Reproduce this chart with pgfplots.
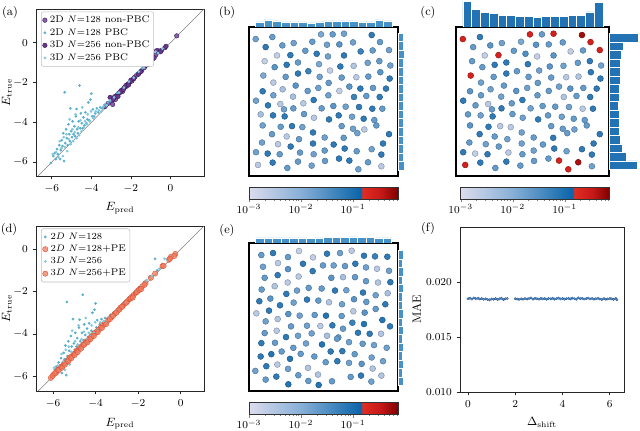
\documentclass[border=0pt]{standalone}
\usepackage{pgfplots}
\usepackage{pgfplotstable}
\pgfplotsset{compat=1.18}

\definecolor{purpA}{RGB}{135,95,175}
\definecolor{purpB}{RGB}{105,55,145}
\definecolor{purpEdge}{RGB}{55,25,80}
\definecolor{cyanA}{RGB}{90,175,205}
\definecolor{cyanB}{RGB}{130,200,220}
\definecolor{redPE}{RGB}{240,125,95}
\definecolor{redEdge}{RGB}{225,80,50}
\definecolor{histB}{RGB}{70,145,200}
\definecolor{histC}{RGB}{35,115,180}
\definecolor{dotF}{RGB}{110,160,210}
\definecolor{dotE}{RGB}{40,90,150}

\pgfplotsset{
  colormap={errmap}{rgb255(0pt)=(220,220,237) rgb255(35pt)=(135,175,215) rgb255(70pt)=(25,110,175) rgb255(75pt)=(10,100,170) rgb255(76pt)=(225,45,35) rgb255(88pt)=(200,25,25) rgb255(100pt)=(125,0,0)},
  plotframe/.style={scale only axis, axis line style={line width=0.6pt, black!85},
    tick align=outside, tick pos=left, major tick length=2.6pt,
    tick style={black!85, line width=0.5pt},
    tick label style={font=\footnotesize}, label style={font=\small}},
  mapframe/.style={scale only axis, axis line style={line width=1pt, black},
    xtick=\empty, ytick=\empty, y dir=reverse, colormap name=errmap,
    point meta min=-3, point meta max=-0.135, colorbar horizontal},
  cbar/.style={at={(parent axis.south west)}, anchor=north west, scale only axis,
    height=9pt, xtick={-3,-2,-1}, xticklabels={$10^{-3}$,$10^{-2}$,$10^{-1}$},
    minor xtick={-2.699,-2.523,-2.398,-2.301,-2.222,-2.155,-2.097,-2.046,
      -1.699,-1.523,-1.398,-1.301,-1.222,-1.155,-1.097,-1.046,
      -0.699,-0.523,-0.398,-0.301,-0.222,-0.155},
    ytick=\empty, tick align=outside, xtick pos=left, xticklabel pos=left,
    major tick length=2.5pt, minor tick length=1.5pt,
    xticklabel style={font=\footnotesize, inner sep=1.5pt}, axis line style={black!80}},
  hist/.style={scale only axis, hide axis},
  spot/.style={scatter, only marks, mark=*, mark size=2.2pt, point meta=explicit,
    scatter/use mapped color={draw=mapped color!75!black, fill=mapped color}},
  keybox/.style={legend cell align=left,
    legend style={at={(0.03,0.985)}, anchor=north west, draw=black!25,
      rounded corners=1.5pt, font=\fontsize{7.3}{7.8}\selectfont,
      inner sep=1pt, row sep=-1.2pt}},
}

% energies, panels (a) and (d)
\pgfplotstableread{
x y
-6.05 -6.05
-5.92 -5.70
-5.85 -5.55
-5.80 -5.85
-5.74 -5.35
-5.70 -5.60
-5.62 -5.15
-5.58 -5.85
-5.55 -5.40
-5.50 -4.90
-5.46 -5.20
-5.42 -4.55
-5.38 -5.95
-5.35 -2.49
-5.32 -5.05
-5.28 -4.35
-5.24 -4.80
-5.20 -5.15
-5.16 -4.10
-5.12 -4.60
-5.08 -4.95
-5.06 -3.30
-5.02 -4.45
-4.98 -4.75
-4.95 -3.95
-4.90 -4.60
-4.86 -4.20
-4.82 -4.70
-4.78 -3.70
-4.75 -3.33
-4.72 -4.35
-4.68 -4.55
-4.64 -3.95
-4.60 -2.15
-4.56 -4.30
-4.53 -3.55
-4.48 -4.05
-4.44 -4.30
-4.40 -3.75
-4.35 -4.15
-4.30 -3.50
-4.25 -4.05
-4.20 -3.85
-4.15 -3.00
-4.10 -3.90
-4.05 -2.86
-4.00 -2.56
-3.96 -3.70
-3.92 -3.35
-3.86 -3.70
-3.80 -3.55
-3.72 -3.30
-3.65 -3.50
-3.55 -3.25
-3.45 -3.30
-3.30 -3.10
-3.15 -3.00
-2.95 -2.80
-2.70 -2.55
-2.45 -2.30
-2.20 -2.10
-1.95 -1.80
-1.70 -1.55
-1.45 -1.30
-1.20 -0.45
-1.10 -1.00
-0.85 -0.70
-0.55 -0.42
}\cyanTwo
\pgfplotstableread{
x y
-5.95 -5.60
-5.78 -5.50
-5.66 -5.75
-5.60 -4.95
-5.52 -5.30
-5.44 -5.70
-5.40 -4.75
-5.34 -5.25
-5.26 -4.60
-5.22 -5.45
-5.14 -4.85
-5.10 -3.85
-5.04 -5.10
-4.96 -4.35
-4.92 -4.95
-4.84 -4.50
-4.80 -3.60
-4.74 -4.80
-4.66 -4.25
-4.62 -4.65
-4.55 -3.90
-4.50 -4.45
-4.46 -3.25
-4.38 -4.25
-4.32 -3.95
-4.22 -4.10
-4.18 -3.60
-4.08 -3.95
-4.02 -3.45
-3.90 -3.80
-3.78 -3.45
-3.62 -3.40
-3.50 -3.45
-3.38 -3.20
-3.22 -3.15
-3.05 -2.90
-2.85 -2.75
-2.60 -2.50
-2.35 -2.25
-2.10 -1.95
-1.85 -1.75
-1.60 -1.45
-1.35 -1.25
-1.00 -0.92
-0.75 -0.45
-0.62 -0.52
-0.40 -0.30
}\cyanThree
\pgfplotstableread{
x y
-3.30 -3.20
-3.15 -3.05
-3.00 -2.95
-2.92 -3.10
-2.85 -2.75
-2.78 -2.85
-2.70 -2.62
-2.62 -2.55
-2.55 -2.50
-2.48 -2.40
-2.42 -2.45
-2.35 -2.28
-2.28 -2.22
-2.22 -2.18
-2.16 -2.08
-2.10 -2.05
-2.02 -1.95
-1.95 -1.92
-1.88 -1.82
-1.80 -1.72
-1.70 -1.62
-1.58 -1.52
-1.45 -1.40
-1.32 -1.25
-1.20 -1.12
-1.05 -1.00
-0.90 -0.82
-0.75 -0.62
-0.62 -0.40
-0.45 -0.38
-0.28 -0.25
0.32 0.35
}\purpTwo
\pgfplotstableread{
x y
-3.05 -2.75
-2.90 -2.85
-2.80 -2.70
-2.65 -2.70
-2.50 -2.42
-2.38 -2.35
-2.25 -2.15
-2.12 -2.12
-2.00 -1.88
-1.85 -1.80
-1.62 -1.58
-1.50 -1.45
-1.28 -1.15
-1.10 -1.08
-0.82 -0.75
-0.70 -0.40
-0.50 -0.45
-0.22 -0.18
}\purpThree
\pgfplotstableread{
x y
-6.10 -6.08
-5.95 -5.90
-5.85 -5.82
-5.78 -5.70
-5.70 -5.66
-5.62 -5.55
-5.55 -5.52
-5.48 -5.40
-5.40 -5.36
-5.32 -5.25
-5.25 -5.20
-5.18 -5.10
-5.10 -5.05
-5.02 -4.95
-4.95 -4.90
-4.88 -4.80
-4.80 -4.75
-4.72 -4.65
-4.65 -4.58
-4.58 -4.50
-4.50 -4.45
-4.42 -4.35
-4.35 -4.30
-4.28 -4.20
-4.20 -4.15
-4.12 -4.05
-4.05 -3.98
-3.95 -3.90
-3.85 -3.80
-3.75 -3.70
-3.65 -3.58
-3.55 -3.50
-3.40 -3.35
-3.25 -3.20
-3.10 -3.05
-2.95 -2.90
-2.82 -2.75
-2.70 -2.65
-2.60 -2.55
-2.50 -2.45
-2.40 -2.35
-2.30 -2.25
-2.20 -2.15
-2.10 -2.05
-2.00 -1.95
-1.90 -1.85
-1.80 -1.75
-1.65 -1.60
-1.40 -1.35
-1.20 -1.15
-0.85 -0.80
-0.55 -0.50
-0.45 -0.35
-0.25 -0.22
}\peTwo
\pgfplotstableread{
x y
-6.02 -5.98
-5.90 -5.86
-5.74 -5.72
-5.58 -5.60
-5.44 -5.45
-5.28 -5.30
-5.14 -5.15
-4.98 -5.00
-4.84 -4.86
-4.68 -4.70
-4.54 -4.52
-4.38 -4.40
-4.24 -4.25
-4.08 -4.10
-3.90 -3.92
-3.70 -3.72
-3.50 -3.54
-3.32 -3.30
-3.18 -3.15
-3.02 -3.00
-2.88 -2.85
-2.75 -2.72
-2.55 -2.52
-2.35 -2.32
-2.25 -2.28
-2.05 -2.02
-1.95 -1.92
-1.85 -1.88
-1.70 -1.68
-0.80 -0.78
-0.50 -0.45
-0.30 -0.32
}\peThree

% particle maps (positions in picture units), log10 errors for (b) and (c)
\pgfplotstableread{
x y eb ec
138 118 -1.8 -0.65
188 112 -1.7 -1.2
334 104 -1.9 -0.65
369 104 -1.7 -1.7
403 102 -1.8 -0.6
486 106 -1.2 -0.3
168 142 -1.2 -1.7
218 137 -1.7 -1.6
252 130 -1.8 -1.8
308 126 -1.7 -1.9
352 135 -1.8 -1.6
389 134 -1.6 -1.7
430 128 -1.8 -1.7
511 127 -1.7 -0.6
242 166 -1.2 -0.65
202 167 -2.7 -2.7
287 153 -1.7 -1.7
321 162 -1.2 -1.5
355 170 -1.8 -2.7
403 167 -1.2 -1.6
453 155 -1.3 -2.7
489 152 -1.7 -1.7
538 151 -1.8 -0.65
165 184 -2.7 -1.7
195 202 -1.6 -1.7
231 195 -1.2 -1.2
265 188 -1.7 -1.2
328 193 -1.9 -1.2
392 200 -1.2 -1.6
432 198 -2.5 -1.8
474 189 -1.8 -1.7
509 184 -1.7 -1.2
542 197 -1.8 -1.8
161 227 -1.9 -0.65
228 231 -1.7 -1.7
265 221 -1.2 -1.2
296 214 -1.3 -1.7
361 212 -2.7 -1.8
330 231 -1.8 -1.7
396 233 -1.7 -1.7
440 232 -2.6 -2.6
476 230 -1.7 -2.5
512 217 -1.6 -1.2
540 236 -1.2 -1.2
191 248 -2.6 -1.8
219 268 -2.4 -1.8
258 257 -1.6 -1.7
294 273 -1.7 -1.6
326 264 -1.8 -1.8
357 249 -1.7 -1.7
389 273 -2.7 -1.7
419 260 -1.6 -1.8
452 266 -1.2 -1.6
490 264 -1.7 -1.7
529 266 -1.2 -1.2
159 274 -1.2 -1.6
191 286 -1.8 -1.7
250 290 -2.4 -1.8
356 286 -1.8 -1.7
312 300 -1.2 -1.2
433 291 -1.3 -2.5
470 288 -1.7 -1.7
510 291 -1.2 -1.2
139 302 -1.8 -1.2
175 316 -1.2 -1.7
212 312 -2.6 -2.6
223 328 -1.8 -1.7
251 325 -1.7 -1.2
281 310 -2.6 -1.7
336 325 -1.7 -1.8
371 318 -1.6 -1.7
408 320 -1.8 -1.7
448 321 -1.2 -1.8
488 326 -1.2 -2.6
518 326 -1.7 -1.2
153 343 -2.4 -1.7
190 346 -1.2 -1.8
225 349 -1.2 -1.2
283 342 -1.7 -1.7
313 353 -2.6 -1.8
358 358 -1.2 -1.2
387 346 -1.2 -1.7
427 350 -1.8 -1.8
462 356 -1.2 -1.7
494 360 -1.7 -1.7
159 376 -1.8 -1.6
213 380 -1.7 -1.2
247 378 -1.2 -2.6
278 381 -1.8 -2.6
396 378 -1.7 -1.7
430 386 -1.8 -1.7
464 388 -2.6 -1.8
500 376 -1.7 -1.7
310 397 -1.2 -1.8
187 402 -1.7 -1.2
231 409 -2.6 -1.7
268 417 -1.7 -1.8
345 412 -1.8 -1.7
402 413 -1.7 -1.2
443 399 -1.8 -1.7
538 402 -1.2 -1.2
157 427 -1.8 -1.7
205 432 -2.6 -1.8
243 439 -1.2 -1.7
310 430 -1.2 -1.8
372 433 -1.2 -1.7
405 445 -1.2 -1.2
441 453 -1.7 -1.8
486 447 -1.8 -1.2
520 430 -1.2 -1.2
139 456 -1.8 -1.2
174 460 -1.2 -2.7
210 462 -1.7 -1.2
271 457 -1.7 -2.6
312 462 -1.8 -1.7
345 451 -1.7 -1.8
388 475 -1.2 -1.7
419 481 -1.2 -0.65
475 486 -1.7 -0.35
515 463 -1.2 -1.2
145 494 -2.6 -0.65
189 487 -1.2 -1.2
233 503 -1.7 -1.7
265 484 -1.7 -1.2
306 496 -1.8 -1.7
346 482 -1.7 -1.7
446 507 -1.8 -0.65
515 498 -2.6 -1.8
}\mapBC
\pgfplotstableread{
x y e
155 121 -1.7
190 115 -1.2
235 127 -1.7
268 109 -2.7
310 128 -2.7
352 117 -1.2
391 115 -1.8
426 108 -2.6
463 123 -1.2
496 125 -1.3
533 126 -1.2
160 156 -1.8
205 145 -2.6
235 163 -1.6
280 147 -1.2
309 169 -1.2
340 152 -1.7
372 152 -1.8
406 154 -1.7
437 147 -1.2
469 158 -1.8
502 162 -2.6
538 168 -1.8
165 189 -1.7
204 181 -1.2
234 203 -2.6
267 185 -2.6
365 189 -1.6
400 187 -2.4
436 187 -1.7
469 199 -1.7
505 203 -2.5
542 202 -1.2
156 224 -1.7
195 214 -2.5
230 237 -1.2
262 227 -1.8
297 219 -1.7
336 221 -1.7
376 227 -1.2
410 226 -1.8
460 233 -1.2
498 241 -1.8
534 235 -2.4
149 259 -1.2
182 251 -1.6
211 271 -1.2
252 263 -1.8
292 254 -1.2
326 257 -1.7
358 262 -2.5
397 268 -1.8
433 253 -1.6
470 261 -1.7
498 282 -1.7
527 268 -1.2
140 295 -2.6
178 287 -1.2
236 297 -1.6
270 302 -1.8
315 300 -1.7
349 302 -1.1
396 303 -1.7
431 289 -2.6
465 293 -1.6
168 319 -1.8
204 312 -2.5
244 334 -1.7
292 332 -1.8
332 333 -2.6
368 331 -1.2
400 341 -1.7
428 323 -1.3
463 327 -1.1
518 315 -1.1
541 334 -1.2
165 354 -1.7
201 347 -2.6
229 366 -1.2
265 362 -1.8
306 355 -1.8
352 362 -2.4
386 367 -1.7
445 353 -1.2
480 356 -1.2
514 356 -2.5
155 384 -1.2
196 383 -1.7
251 398 -1.7
289 385 -1.8
337 388 -1.1
382 371 -1.7
418 381 -1.8
459 386 -1.7
493 390 -1.8
531 398 -1.8
153 424 -1.2
185 417 -1.1
216 409 -1.7
241 431 -1.1
273 416 -1.7
314 424 -1.7
363 409 -1.2
398 408 -1.2
435 417 -1.7
486 427 -1.8
520 438 -1.8
170 453 -1.2
203 448 -2.6
235 461 -1.8
295 458 -2.5
348 441 -1.7
383 438 -1.2
418 443 -1.8
456 446 -1.6
489 460 -2.5
137 467 -1.8
168 493 -1.7
200 484 -1.2
266 480 -1.7
325 478 -2.5
367 498 -1.7
423 485 -1.7
454 481 -1.2
515 481 -2.5
236 507 -1.1
296 497 -1.7
327 509 -1.1
485 499 -1.8
}\mapE

% MAE versus shift, panel (f)
\pgfplotstableread{
x y
0.00 0.01848
0.08 0.01852
0.16 0.01845
0.25 0.01855
0.33 0.01849
0.42 0.01851
0.50 0.01846
0.58 0.01850
0.66 0.01843
0.75 0.01847
0.83 0.01840
0.91 0.01838
1.00 0.01845
1.08 0.01843
1.16 0.01849
1.25 0.01841
1.33 0.01846
1.41 0.01852
1.50 0.01839
1.58 0.01847
1.66 0.01850
2.00 0.01848
2.08 0.01845
2.16 0.01842
2.25 0.01847
2.33 0.01844
2.41 0.01849
2.50 0.01846
2.58 0.01850
2.66 0.01855
2.75 0.01845
2.83 0.01851
2.91 0.01848
3.00 0.01844
3.08 0.01850
3.16 0.01846
3.25 0.01849
3.33 0.01843
3.41 0.01851
3.50 0.01847
3.58 0.01852
3.66 0.01845
3.75 0.01849
3.83 0.01853
3.91 0.01846
4.00 0.01850
4.08 0.01844
4.16 0.01848
4.25 0.01852
4.33 0.01846
4.41 0.01854
4.50 0.01849
4.58 0.01843
4.66 0.01856
4.75 0.01848
4.83 0.01851
4.91 0.01845
5.00 0.01849
5.08 0.01853
5.16 0.01846
5.25 0.01850
5.33 0.01844
5.41 0.01848
5.50 0.01851
5.58 0.01845
5.66 0.01841
5.75 0.01849
5.83 0.01843
5.91 0.01846
6.00 0.01850
6.08 0.01847
6.16 0.01842
6.25 0.01852
6.30 0.01838
}\maeShift

\begin{document}
\begin{tikzpicture}
\useasboundingbox (0,0) rectangle (480pt,-323.25pt);

% ---------- (a)
\begin{axis}[plotframe, keybox, at={(27pt,-6.75pt)}, anchor=north west,
  width=126pt, height=125.25pt,
  xmin=-6.8, xmax=1.7, ymin=-6.7, ymax=1.7,
  xtick={-6,-4,-2,0}, ytick={-6,-4,-2,0},
  xlabel={$E_{\mathrm{pred}}$}, ylabel={$E_{\mathrm{true}}$},
  xlabel style={yshift=-1pt}, ylabel style={yshift=-5.5pt}]
\addplot[gray, line width=0.4pt, forget plot] coordinates {(-7,-7) (2,2)};
\addplot[only marks, mark=*, mark size=1.7pt, mark options={fill=purpA, draw=purpEdge, line width=0.3pt}] table {\purpTwo};
\addlegendentry{2D $N{=}128$ non-PBC}
\addplot[only marks, mark=*, mark size=0.8pt, mark options={fill=cyanA, draw=cyanA}] table {\cyanTwo};
\addlegendentry{2D $N{=}128$ PBC}
\addplot[only marks, mark=*, mark size=1.7pt, mark options={fill=purpB, draw=purpEdge, line width=0.3pt}] table {\purpThree};
\addlegendentry{3D $N{=}256$ non-PBC}
\addplot[only marks, mark=*, mark size=0.8pt, mark options={fill=cyanB, draw=cyanB}] table {\cyanThree};
\addlegendentry{3D $N{=}256$ PBC}
\end{axis}

% ---------- (d)
\begin{axis}[plotframe, keybox, at={(27pt,-169.5pt)}, anchor=north west,
  width=126pt, height=123.75pt,
  xmin=-6.8, xmax=1.1, ymin=-6.7, ymax=1.1,
  xtick={-6,-4,-2,0}, ytick={-6,-4,-2,0},
  xlabel={$E_{\mathrm{pred}}$}, ylabel={$E_{\mathrm{true}}$},
  xlabel style={yshift=-1.5pt}, ylabel style={yshift=-5.5pt}]
\addplot[gray, line width=0.4pt, forget plot] coordinates {(-7,-7) (2,2)};
\addplot[only marks, mark=*, mark size=0.8pt, mark options={fill=cyanA, draw=cyanA}] table {\cyanTwo};
\addlegendentry{$2D$ $N{=}128$}
\addplot[only marks, mark=*, mark size=2pt, mark options={fill=redPE, fill opacity=0.75, draw=redEdge, line width=0.3pt}] table {\peTwo};
\addlegendentry{$2D$ $N{=}128$+PE}
\addplot[only marks, mark=*, mark size=0.8pt, mark options={fill=cyanB, draw=cyanB}] table {\cyanThree};
\addlegendentry{$3D$ $N{=}256$}
\addplot[only marks, mark=*, mark size=2pt, mark options={fill=redPE, fill opacity=0.75, draw=redEdge, line width=0.3pt}] table {\peThree};
\addlegendentry{$3D$ $N{=}256$+PE}
\end{axis}

% ---------- (b)
\begin{axis}[mapframe, at={(186.75pt,-20.25pt)}, anchor=north west,
  width=111.75pt, height=111.75pt, xmin=118, xmax=565, ymin=82, ymax=527,
  colorbar shift/.style={yshift=-8.25pt},
  colorbar style={cbar, width=111.75pt}]
\addplot[spot] table[x=x, y=y, meta=eb] {\mapBC};
\end{axis}
\begin{axis}[hist, at={(186.75pt,-20.25pt)}, anchor=south west,
  width=111.75pt, height=19.5pt, xmin=118, xmax=565, ymin=0, ymax=26]
\addplot[ybar interval, fill=histB, draw=white, line width=0.4pt] coordinates {
(138,5)(163.6,7)(189.2,6)(214.8,5)(240.4,5)(266,5)(291.6,4)(317.2,5)(342.8,6)(368.4,6)(394,6)(419.6,6)(445.2,5)(470.8,5)(496.4,7)(522,6)(547.6,0)};
\end{axis}
\begin{axis}[hist, at={(298.5pt,-20.25pt)}, anchor=north west,
  width=22.5pt, height=111.75pt, xmin=0, xmax=30, ymin=82, ymax=527, y dir=reverse]
\addplot[xbar interval, fill=histB, draw=white, line width=0.4pt] coordinates {
(5.5,100)(5,125.6)(6,151.2)(5.5,176.8)(5.5,202.4)(5.5,228)(5,253.6)(5.5,279.2)(5.5,304.8)(5,330.4)(5,356)(5.5,381.6)(5.5,407.2)(5,432.8)(5.5,458.4)(6,484)(0,509.6)};
\end{axis}

% ---------- (c)
\begin{axis}[mapframe, at={(342pt,-20.25pt)}, anchor=north west,
  width=114.75pt, height=111.75pt, xmin=118, xmax=565, ymin=82, ymax=527,
  colorbar shift/.style={yshift=-8.25pt, xshift=3.5pt},
  colorbar style={cbar, width=111.75pt}]
\addplot[spot] table[x=x, y=y, meta=ec] {\mapBC};
\end{axis}
\begin{axis}[hist, at={(342pt,-20.25pt)}, anchor=south west,
  width=114.75pt, height=19.5pt, xmin=118, xmax=565, ymin=0, ymax=26]
\addplot[ybar interval, fill=histC, draw=white, line width=0.4pt] coordinates {
(138,25.7)(163.6,17.7)(189.2,14.3)(214.8,13.3)(240.4,11.7)(266,11.3)(291.6,10.3)(317.2,10.3)(342.8,9.7)(368.4,10.3)(394,10.3)(419.6,10.3)(445.2,11.7)(470.8,11.7)(496.4,15)(522,24.7)(547.6,0)};
\end{axis}
\begin{axis}[hist, at={(456.75pt,-20.25pt)}, anchor=north west,
  width=22.5pt, height=111.75pt, xmin=0, xmax=30, ymin=82, ymax=527, y dir=reverse]
\addplot[xbar interval, fill=histC, draw=white, line width=0.4pt] coordinates {
(29.7,102)(14.3,127.3)(12.7,152.6)(11,177.9)(11,203.2)(11,228.5)(10,253.8)(10,279.1)(9.3,304.4)(10,329.7)(10,355)(10.7,380.3)(11.7,405.6)(13.3,430.9)(17.3,456.2)(28.3,481.5)(0,506.8)};
\end{axis}

% ---------- (e)
\begin{axis}[mapframe, at={(186.75pt,-182.25pt)}, anchor=north west,
  width=111.75pt, height=111pt, xmin=118, xmax=565, ymin=85, ymax=527,
  colorbar shift/.style={yshift=-8.6pt},
  colorbar style={cbar, width=111.75pt}]
\addplot[spot] table[x=x, y=y, meta=e] {\mapE};
\end{axis}
\begin{axis}[hist, at={(186.75pt,-182.25pt)}, anchor=south west,
  width=111.75pt, height=19.5pt, xmin=118, xmax=565, ymin=0, ymax=26]
\addplot[ybar interval, fill=histB, draw=white, line width=0.4pt] coordinates {
(137,5)(162.5,5)(188,5)(213.5,5)(239,5)(264.5,5)(290,4.5)(315.5,5)(341,5.5)(366.5,5.5)(392,5.5)(417.5,6)(443,5.5)(468.5,5.5)(494,5)(519.5,5)(545,0)};
\end{axis}
\begin{axis}[hist, at={(298.5pt,-182.25pt)}, anchor=north west,
  width=22.5pt, height=111pt, xmin=0, xmax=30, ymin=85, ymax=527, y dir=reverse]
\addplot[xbar interval, fill=histB, draw=white, line width=0.4pt] coordinates {
(5,108)(4.5,133.1)(5,158.2)(4.5,183.3)(5,208.4)(4.5,233.5)(4.5,258.6)(5,283.7)(4.5,308.8)(5,333.9)(4.5,359)(5,384.1)(4.5,409.2)(5,434.3)(4.5,459.4)(5,484.5)(0,509.6)};
\end{axis}

% ---------- (f)
\begin{axis}[plotframe, at={(345pt,-170.25pt)}, anchor=north west,
  width=123pt, height=123.75pt,
  xmin=-0.34, xmax=6.6, ymin=0.010, ymax=0.025,
  xtick={0,2,4,6}, ytick={0.010,0.015,0.020}, scaled y ticks=false,
  yticklabel style={/pgf/number format/.cd, fixed, fixed zerofill, precision=3},
  xlabel={$\Delta_{\mathrm{shift}}$}, ylabel={MAE},
  xlabel style={yshift=-1pt}, ylabel style={yshift=-3pt}]
\addplot[only marks, mark=*, mark size=0.9pt, mark options={fill=dotF, draw=dotE, line width=0.3pt}] table {\maeShift};
\end{axis}

% panel letters
\node[font=\small] at (7.5pt,-9pt) {(a)};
\node[font=\small] at (170.25pt,-9pt) {(b)};
\node[font=\small] at (321pt,-9pt) {(c)};
\node[font=\small] at (6.75pt,-171.75pt) {(d)};
\node[font=\small] at (170.25pt,-172.5pt) {(e)};
\node[font=\small] at (321pt,-171pt) {(f)};
\end{tikzpicture}
\end{document}
